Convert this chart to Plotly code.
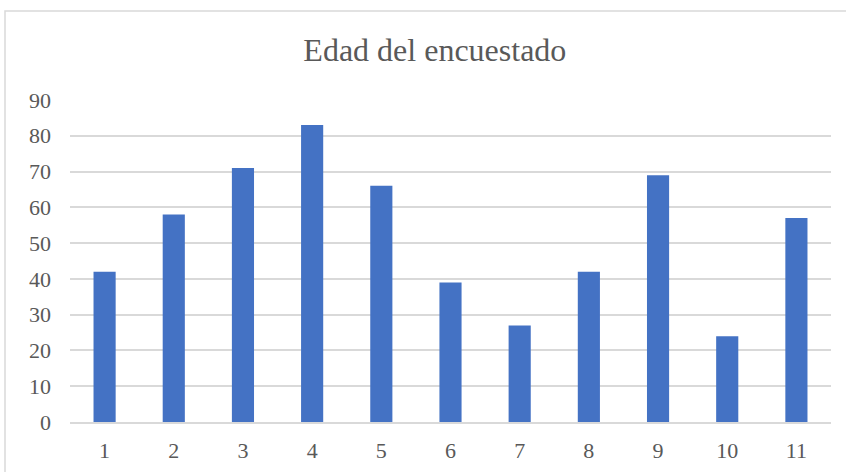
import plotly.graph_objects as go

categories = ["1", "2", "3", "4", "5", "6", "7", "8", "9", "10", "11"]
values = [42, 58, 71, 83, 66, 39, 27, 42, 69, 24, 57]
y_ticks = [0, 10, 20, 30, 40, 50, 60, 70, 80, 90]

fig = go.Figure(go.Bar(x=categories, y=values, marker=dict(color="#4472C4", line=dict(width=0))))

font_family = "Liberation Serif"
fig.update_layout(
    width=846, height=472,
    margin=dict(l=70, r=15, t=100, b=50, autoexpand=False),
    paper_bgcolor="white", plot_bgcolor="white",
    bargap=0.68,
    showlegend=False,
    title=dict(text="Edad del encuestado", x=0.514, xanchor="center", y=0.894, yanchor="middle",
               font=dict(family=font_family, size=32, color="#595959")),
    font=dict(family=font_family, color="#595959"),
)
fig.update_xaxes(type="category", showgrid=False, showline=True, linecolor="#D9D9D9", linewidth=1.5,
                 ticks="", tickfont=dict(family=font_family, size=22, color="#595959"),
                 ticklabelstandoff=8, automargin=False)
fig.update_yaxes(range=[0, 90], tickvals=y_ticks, showgrid=True, gridcolor="#D9D9D9", gridwidth=1.5,
                 zeroline=False, showline=False, ticks="",
                 tickfont=dict(family=font_family, size=22, color="#595959"),
                 ticklabelstandoff=18, automargin=False)
fig.add_shape(type="rect", xref="paper", yref="paper", x0=(5 - 70) / 761, x1=1.2, y0=-0.5, y1=(422 - 11) / 322,
              line=dict(color="#D9D9D9", width=1.5), fillcolor="rgba(0,0,0,0)", layer="below")
fig.write_html("out.html", config={"displayModeBar": False},
               post_script="document.body.style.margin='0';")
